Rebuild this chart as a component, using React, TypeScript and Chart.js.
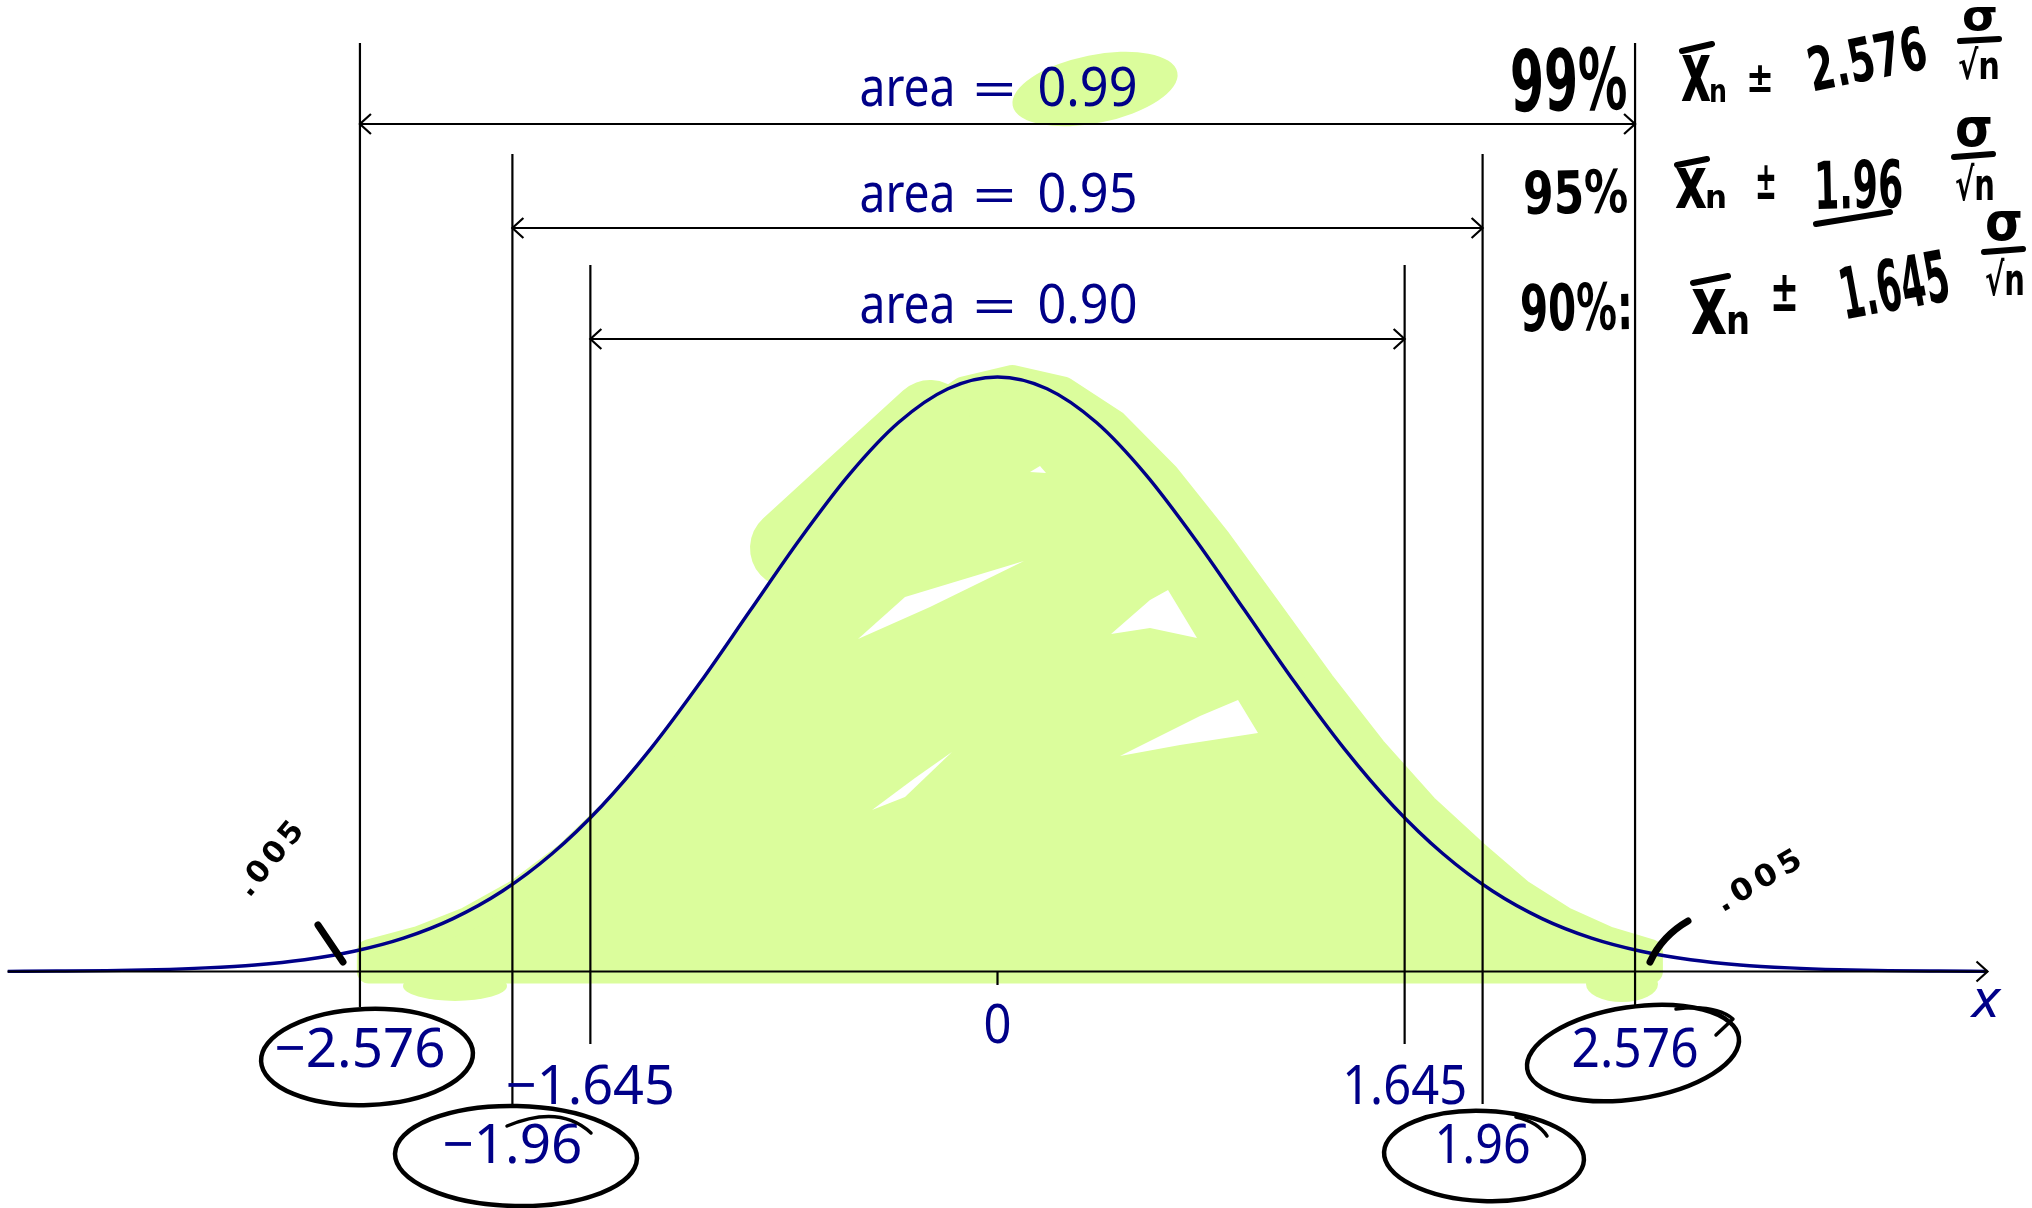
import React, { useEffect, useRef } from 'react';
import { Chart, registerables } from 'chart.js';

Chart.register(...registerables);

// Standard normal density, sampled every 0.2
const zValues = [
  -4.0, -3.8, -3.6, -3.4, -3.2, -3.0, -2.8, -2.6, -2.4, -2.2, -2.0,
  -1.8, -1.6, -1.4, -1.2, -1.0, -0.8, -0.6, -0.4, -0.2, 0.0,
  0.2, 0.4, 0.6, 0.8, 1.0, 1.2, 1.4, 1.6, 1.8, 2.0,
  2.2, 2.4, 2.6, 2.8, 3.0, 3.2, 3.4, 3.6, 3.8, 4.0,
];
const density = [
  0.0001, 0.0003, 0.0006, 0.0012, 0.0024, 0.0044, 0.0079, 0.0136, 0.0224, 0.0355, 0.054,
  0.079, 0.1109, 0.1497, 0.1942, 0.242, 0.2897, 0.3332, 0.3683, 0.391, 0.3989,
  0.391, 0.3683, 0.3332, 0.2897, 0.242, 0.1942, 0.1497, 0.1109, 0.079, 0.054,
  0.0355, 0.0224, 0.0136, 0.0079, 0.0044, 0.0024, 0.0012, 0.0006, 0.0003, 0.0001,
];

// Confidence levels: critical values and central areas
const criticalZ = [1.645, 1.96, 2.576];
const zText = ['1.645', '1.96', '2.576'];
const areaText = ['0.90', '0.95', '0.99'];
const levelNotes = ['90%:', '95%', '99%'];
const tailNote = '.005';

const NAVY = '#000088';
const GREEN = '#dbfd9c';
const SANS = '"Noto Sans"';
const HAND = '"DejaVu Sans"';

type Ctx = CanvasRenderingContext2D;

// Text stretched/compressed horizontally to a given width, centred on cx
function fitText(ctx: Ctx, text: string, cx: number, baseline: number, font: string, width?: number) {
  ctx.save();
  ctx.font = font;
  const w = ctx.measureText(text).width;
  ctx.translate(cx, baseline);
  if (width) ctx.scale(width / w, 1);
  ctx.textAlign = 'center';
  ctx.textBaseline = 'alphabetic';
  ctx.fillText(text, 0, 0);
  ctx.restore();
}

// Pen-style text placed in a box (glyph height = height), optional rotation
function boxText(
  ctx: Ctx, text: string, left: number, top: number, width: number, height: number,
  rot = 0, ratio = 0.73, spacing = 0,
) {
  const size = height / ratio;
  ctx.save();
  ctx.font = `bold ${size}px ${HAND}`;
  (ctx as any).letterSpacing = `${spacing}px`;
  const w = ctx.measureText(text).width;
  ctx.translate(left + width / 2, top + height / 2);
  ctx.rotate(rot);
  ctx.scale(width / w, 1);
  ctx.textAlign = 'center';
  ctx.textBaseline = 'alphabetic';
  ctx.fillText(text, 0, height / 2);
  ctx.restore();
}

function seg(ctx: Ctx, x1: number, y1: number, x2: number, y2: number) {
  ctx.beginPath();
  ctx.moveTo(x1, y1);
  ctx.lineTo(x2, y2);
  ctx.stroke();
}

function arrowHead(ctx: Ctx, tipX: number, tipY: number, dir: number) {
  const L = 11;
  const W = 10;
  ctx.beginPath();
  ctx.moveTo(tipX - dir * L, tipY - W);
  ctx.quadraticCurveTo(tipX - dir * L * 0.2, tipY - W * 0.2, tipX, tipY);
  ctx.quadraticCurveTo(tipX - dir * L * 0.2, tipY + W * 0.2, tipX - dir * L, tipY + W);
  ctx.stroke();
}

// horizontal offset of the pen stroke relative to the curve (leans right)
function penShift(z: number) {
  if (z <= 0) return 0.06;
  if (z <= 1.8) return 0.06 + (0.08 * z) / 1.8;
  return 0.14 - (0.1 * (z - 1.8)) / 0.8;
}

// Marker-pen highlight under the curve
const highlightPlugin = {
  id: 'highlight',
  beforeDatasetsDraw(chart: any) {
    const { ctx } = chart;
    const xs = chart.scales.x;
    const ys = chart.scales.y;
    const X = (v: number) => xs.getPixelForValue(v);
    const Y = (v: number) => ys.getPixelForValue(v);
    ctx.save();
    ctx.fillStyle = GREEN;
    ctx.strokeStyle = GREEN;
    ctx.lineJoin = 'round';
    ctx.lineCap = 'round';

    // blob behind "0.99"
    ctx.beginPath();
    ctx.ellipse(1095, 89, 84, 34, -0.2, 0, Math.PI * 2);
    ctx.fill();

    const pts = zValues
      .map((z, i) => [z, density[i]] as [number, number])
      .filter(([z]) => z >= -2.61 && z <= 2.61);
    const first = pts[0][0];
    const last = pts[pts.length - 1][0];
    ctx.beginPath();
    ctx.moveTo(X(first + penShift(first)), Y(0));
    pts.forEach(([z, d]) => ctx.lineTo(X(z + penShift(z)), Y(d)));
    ctx.lineTo(X(last + penShift(last)), Y(0));
    ctx.closePath();
    ctx.fill();
    ctx.lineWidth = 24;
    ctx.stroke();

    // extra strokes of the pen
    ctx.lineWidth = 80;
    seg(ctx, 790, 548, 930, 420);
    ctx.beginPath();
    ctx.ellipse(455, 986, 52, 15, 0, 0, Math.PI * 2);
    ctx.fill();
    ctx.beginPath();
    ctx.ellipse(1622, 984, 36, 18, 0, 0, Math.PI * 2);
    ctx.fill();

    // gaps left between pen strokes
    ctx.fillStyle = '#ffffff';
    const gaps = [
      [[858, 639], [905, 597], [1024, 561], [930, 607]],
      [[1111, 634], [1150, 600], [1168, 590], [1197, 638], [1150, 628]],
      [[1120, 756], [1200, 716], [1238, 700], [1258, 733], [1180, 745]],
      [[872, 810], [915, 778], [952, 752], [905, 797]],
      [[1030, 472], [1040, 466], [1046, 473]],
    ];
    gaps.forEach((g) => {
      ctx.beginPath();
      ctx.moveTo(g[0][0], g[0][1]);
      for (let k = 1; k < g.length; k++) ctx.lineTo(g[k][0], g[k][1]);
      ctx.closePath();
      ctx.fill();
    });
    ctx.restore();
  },
};

// Axis, interval brackets, labels and pen notes
const annotationPlugin = {
  id: 'annotations',
  afterDatasetsDraw(chart: any) {
    const { ctx } = chart;
    const xs = chart.scales.x;
    const ys = chart.scales.y;
    const X = (v: number) => xs.getPixelForValue(v);
    const Y = (v: number) => ys.getPixelForValue(v);
    const y0 = Y(0);

    const lineTop = [265, 154, 43];
    const lineBottom = [1044, 1104, 1007];
    const arrowY = [339, 228, 124];
    const areaBaseline = [323, 212, 106];
    const zBaseline = [1104, 1163, 1067];
    const zWidth = [125, 96, 127];

    ctx.save();
    ctx.strokeStyle = '#000';
    ctx.lineWidth = 2.2;
    ctx.lineCap = 'butt';

    // x axis with arrow
    seg(ctx, X(-4), y0, X(4), y0);
    arrowHead(ctx, X(4), y0, 1);
    seg(ctx, X(0), y0, X(0), 985);

    criticalZ.forEach((z, i) => {
      seg(ctx, X(-z), lineTop[i], X(-z), lineBottom[i]);
      seg(ctx, X(z), lineTop[i], X(z), lineBottom[i]);
      seg(ctx, X(-z), arrowY[i], X(z), arrowY[i]);
      arrowHead(ctx, X(-z), arrowY[i], -1);
      arrowHead(ctx, X(z), arrowY[i], 1);
    });

    // printed labels
    ctx.fillStyle = NAVY;
    const f = `54px ${SANS}`;
    const cx = X(0);
    criticalZ.forEach((z, i) => {
      fitText(ctx, 'area', cx - 90, areaBaseline[i], f, 96);
      fitText(ctx, '=', cx - 3, areaBaseline[i], `48px ${SANS}`, 44);
      fitText(ctx, areaText[i], cx + 90, areaBaseline[i], f, 100);
      fitText(ctx, `\u2212${zText[i]}`, X(-z), zBaseline[i], f, zWidth[i] + 44);
      fitText(ctx, zText[i], X(z), zBaseline[i], f, zWidth[i]);
    });
    fitText(ctx, '0', cx, 1043, f, 28);
    fitText(ctx, 'x', 1986, 1017, `italic 52px ${SANS}`, 28);

    // pen notes
    ctx.strokeStyle = '#000';
    ctx.fillStyle = '#000';
    ctx.lineCap = 'round';
    ctx.lineJoin = 'round';

    // circles around the critical values
    ctx.lineWidth = 4.5;
    const rings = [
      [367, 1057, 106, 48, -0.04],
      [516, 1156, 121, 50, 0.02],
      [1633, 1053, 107, 46, -0.15],
      [1484, 1156, 100, 45, 0.04],
    ];
    rings.forEach(([ex, ey, rx, ry, r]) => {
      ctx.beginPath();
      ctx.ellipse(ex, ey, rx, ry, r, 0, Math.PI * 2);
      ctx.stroke();
    });
    ctx.lineWidth = 3.5;
    ctx.beginPath();
    ctx.moveTo(507, 1126);
    ctx.quadraticCurveTo(560, 1104, 591, 1133);
    ctx.stroke();
    ctx.beginPath();
    ctx.moveTo(1516, 1117);
    ctx.quadraticCurveTo(1538, 1122, 1547, 1136);
    ctx.stroke();
    ctx.beginPath();
    ctx.moveTo(1676, 1009);
    ctx.quadraticCurveTo(1715, 1004, 1733, 1019);
    ctx.lineTo(1716, 1035);
    ctx.stroke();

    // tail markers on the curve
    ctx.lineWidth = 7;
    seg(ctx, 318, 925, 343, 962);
    ctx.beginPath();
    ctx.moveTo(1650, 962);
    ctx.quadraticCurveTo(1662, 936, 1688, 921);
    ctx.stroke();
    boxText(ctx, tailNote, 270 - 46, 856 - 11, 92, 22, -0.88, 0.73, 4);
    boxText(ctx, tailNote, 1760 - 50, 878 - 11, 100, 22, -0.53, 0.73, 5);

    // confidence levels
    boxText(ctx, levelNotes[2], 1510, 48, 117, 62, -0.02);
    boxText(ctx, levelNotes[1], 1523, 170, 105, 43, -0.02);
    boxText(ctx, levelNotes[0], 1520, 283, 113, 47, -0.02);

    // interval formulas: x̄ₙ ± z σ/√n
    const rows = [
      { x: [1681, 55, 30, 46], bar: [1682, 51, 1712, 44], n: [1709, 84, 18, 18], pm: [1746, 66, 28, 26],
        z: [1807, 36, 120, 44, -0.2], s: [1962, 6, 36, 24], fb: [1960, 41, 1999, 39], r: [1958, 49, 42, 30] },
      { x: [1675, 168, 32, 40], bar: [1677, 165, 1707, 159], n: [1705, 190, 22, 18], pm: [1755, 167, 22, 32],
        z: [1814, 160, 89, 48, -0.02], s: [1955, 116, 38, 30], fb: [1954, 157, 1993, 154], r: [1955, 166, 40, 34] },
      { x: [1691, 289, 36, 45], bar: [1693, 283, 1728, 276], n: [1726, 312, 24, 22], pm: [1770, 277, 29, 34],
        z: [1839, 258, 110, 52, -0.18], s: [1985, 210, 38, 30], fb: [1984, 252, 2023, 249], r: [1985, 261, 40, 34] },
    ];
    const zOrder = [2, 1, 0];
    rows.forEach((row, k) => {
      boxText(ctx, 'x', row.x[0], row.x[1], row.x[2], row.x[3], 0, 0.55);
      ctx.lineWidth = 6;
      seg(ctx, row.bar[0], row.bar[1], row.bar[2], row.bar[3]);
      boxText(ctx, 'n', row.n[0], row.n[1], row.n[2], row.n[3], 0, 0.55);
      boxText(ctx, '\u00b1', row.pm[0], row.pm[1], row.pm[2], row.pm[3], 0, 0.6);
      boxText(ctx, zText[zOrder[k]], row.z[0], row.z[1], row.z[2], row.z[3], row.z[4]);
      boxText(ctx, '\u03c3', row.s[0], row.s[1], row.s[2], row.s[3], 0, 0.56);
      ctx.lineWidth = 6;
      seg(ctx, row.fb[0], row.fb[1], row.fb[2], row.fb[3]);
      boxText(ctx, '\u221an', row.r[0], row.r[1], row.r[2], row.r[3], 0, 0.76);
    });
    // underline under 1.96
    ctx.lineWidth = 6;
    seg(ctx, 1816, 224, 1890, 212);
    ctx.restore();
  },
};

export default function App() {
  const ref = useRef<HTMLCanvasElement>(null);

  useEffect(() => {
    document.body.style.margin = '0';
    document.body.style.overflow = 'hidden';
    const canvas = ref.current;
    if (!canvas) return;

    // y range chosen so that the density maps onto the full canvas height
    const yMax = 0.65184;
    const yMin = -0.15868;

    const chart = new Chart(canvas, {
      type: 'scatter',
      data: {
        datasets: [
          {
            data: zValues.map((z, i) => ({ x: z, y: density[i] })),
            showLine: true,
            borderColor: NAVY,
            borderWidth: 3.4,
            pointRadius: 0,
            cubicInterpolationMode: 'monotone',
            fill: false,
          },
        ],
      },
      options: {
        responsive: false,
        animation: false,
        devicePixelRatio: 1,
        events: [],
        layout: { padding: { left: 7.5, right: 44.5, top: 0, bottom: 0 } },
        scales: {
          x: { type: 'linear', min: -4, max: 4, display: false },
          y: { type: 'linear', min: yMin, max: yMax, display: false },
        },
        plugins: {
          legend: { display: false },
          tooltip: { enabled: false },
        },
      },
      plugins: [highlightPlugin, annotationPlugin],
    } as any);

    return () => chart.destroy();
  }, []);

  return <canvas ref={ref} width={2032} height={1208} style={{ display: 'block', background: '#fff' }} />;
}
